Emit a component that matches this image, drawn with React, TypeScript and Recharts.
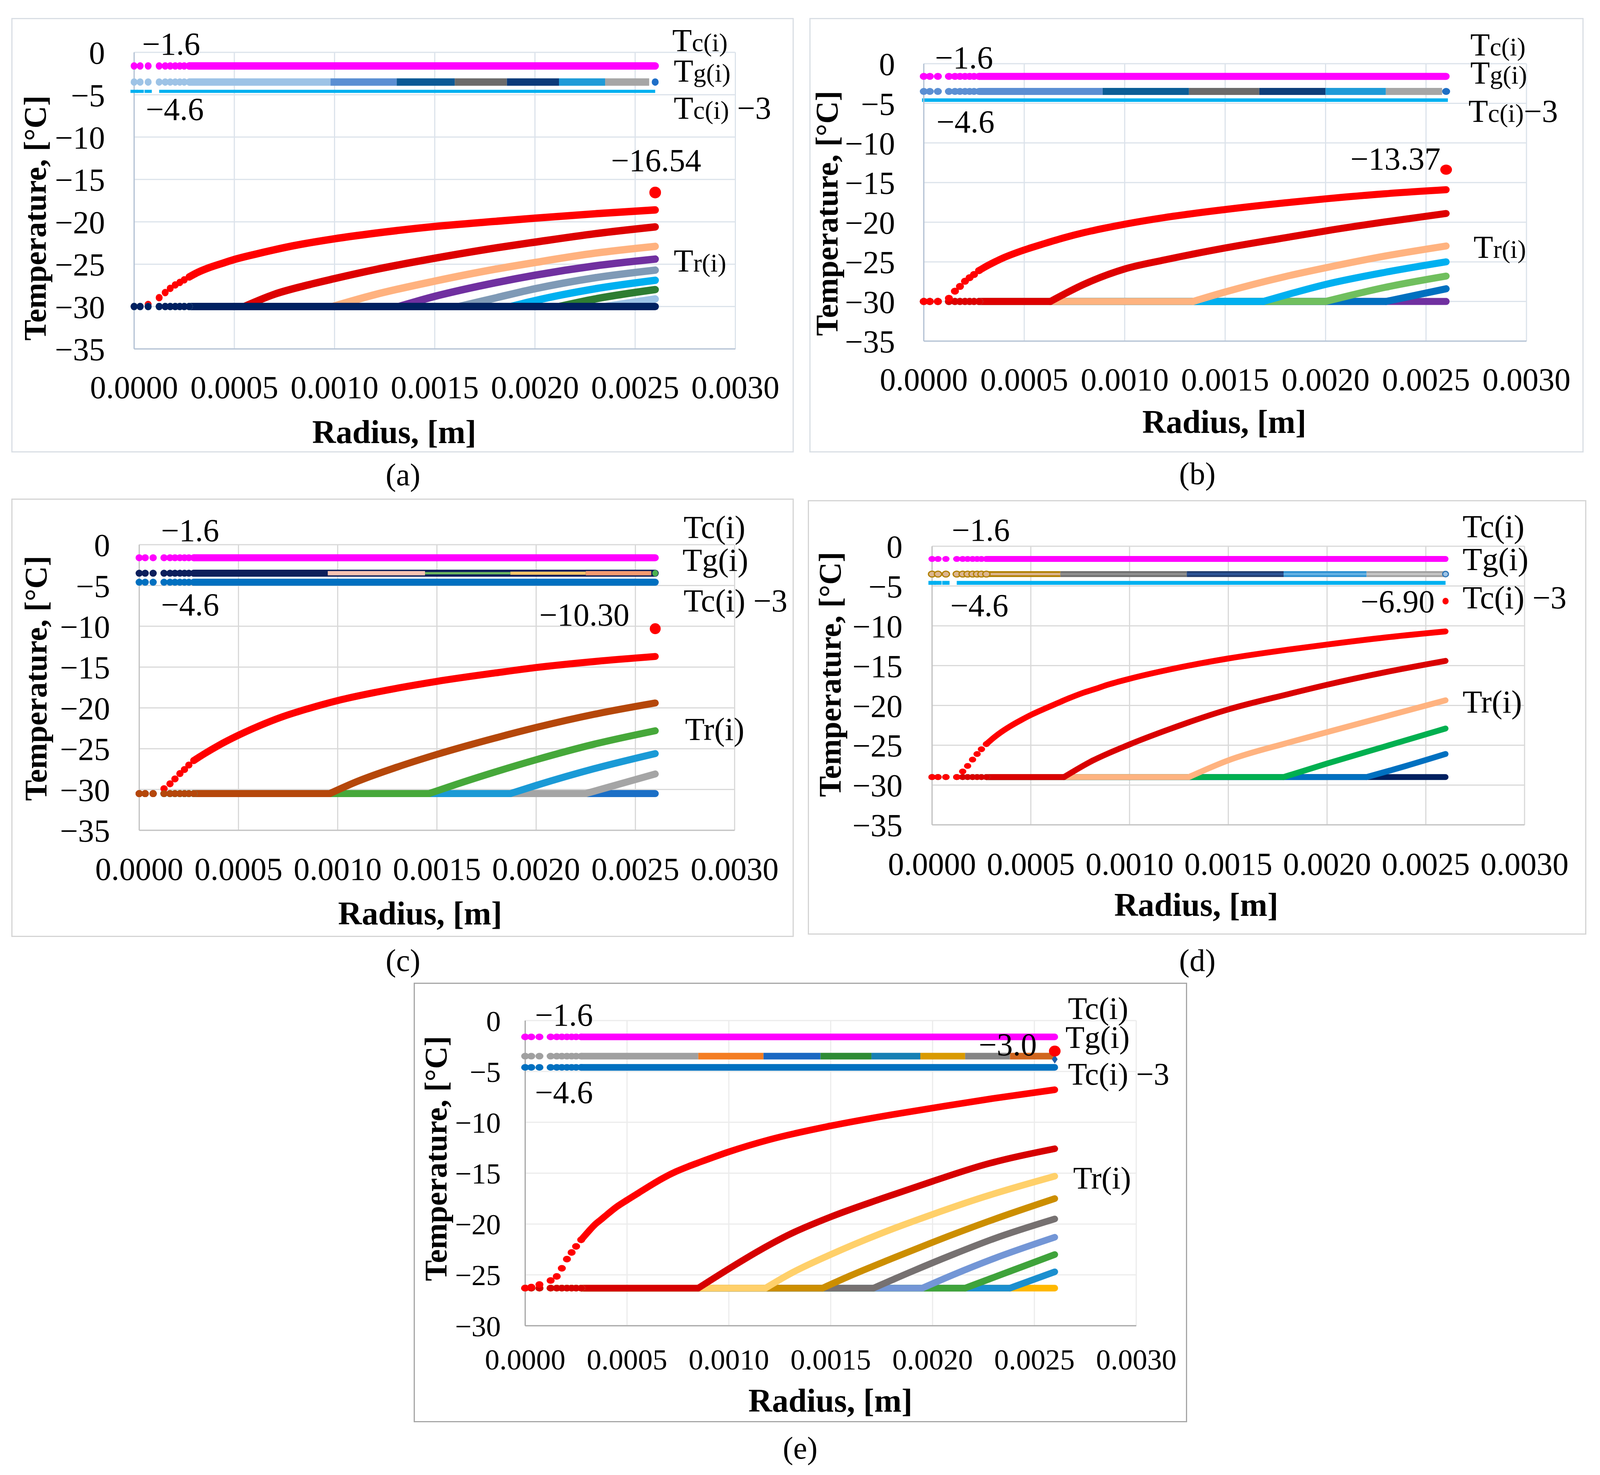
import React from 'react';
import { ComposedChart, Line, XAxis, YAxis, CartesianGrid } from 'recharts';

type Pt = [number, number];

const FONT = '"Liberation Serif", "Times New Roman", Times, serif';
const REF_W = 4391;
const PAGE_W = 4096;
const PAGE_H = 3775;
const KX = PAGE_W / REF_W;
const sx = (x: number) => x * KX;
const X_H = 150;
const Y_W = 180;

// ---------- shared axes / categories ----------
const X_TICKS = [0, 0.0005, 0.001, 0.0015, 0.002, 0.0025, 0.003];
const Y_TICKS_35 = [0, -5, -10, -15, -20, -25, -30, -35];
const Y_TICKS_30 = [0, -5, -10, -15, -20, -25, -30];
const START_R = [0, 0.00003, 0.00007, 0.000125, 0.000155, 0.00018, 0.000205, 0.000228, 0.00025, 0.000275];
const BAND_FROM = 0.000275;
const DASH_TO = 0.000125;

const TC = -1.6;
const TG = -3.5;
const TC3 = -4.6;

// ---------- panel (a) ----------
const A_TC: Pt[] = [[0, TC], [0.0026, TC]];
const A_TC3: Pt[] = [[0, TC3], [0.0026, TC3]];
const A_TG_BREAKS = [0, 0.00098, 0.00131, 0.0016, 0.00186, 0.00212, 0.00235, 0.00257];
const A_TR1: Pt[] = [[0, -30], [0.00003, -30], [0.00007, -29.75], [0.000125, -28.95], [0.000155, -28.35], [0.00018, -27.85], [0.000205, -27.45], [0.000228, -27.15], [0.00025, -26.85], [0.000275, -26.5], [0.00031, -26.05], [0.00037, -25.45], [0.00044, -24.9], [0.0005, -24.45], [0.0006, -23.85], [0.0007, -23.3], [0.0008, -22.8], [0.001, -22.0], [0.0012, -21.35], [0.0015, -20.55], [0.0018, -19.95], [0.002, -19.57], [0.0023, -19.05], [0.0026, -18.6]];
const A_TR2: Pt[] = [[0, -30], [0.00055, -30], [0.0007, -28.55], [0.00085, -27.55], [0.001, -26.7], [0.0012, -25.65], [0.0015, -24.3], [0.0018, -23.1], [0.002, -22.4], [0.0023, -21.4], [0.0026, -20.6]];
const A_TR3: Pt[] = [[0, -30], [0.00099, -30], [0.0012, -28.6], [0.0015, -27.0], [0.0018, -25.6], [0.002, -24.8], [0.0023, -23.7], [0.0026, -22.9]];
const A_TR4: Pt[] = [[0, -30], [0.00132, -30], [0.0015, -28.8], [0.0018, -27.2], [0.002, -26.3], [0.0023, -25.2], [0.0026, -24.4]];
const A_TR5: Pt[] = [[0, -30], [0.00162, -30], [0.0018, -29.0], [0.002, -27.9], [0.0023, -26.6], [0.0026, -25.7]];
const A_TR6: Pt[] = [[0, -30], [0.00188, -30], [0.002, -29.3], [0.0023, -27.9], [0.0026, -26.9]];
const A_TR7: Pt[] = [[0, -30], [0.00212, -30], [0.0023, -29.1], [0.0026, -28.0]];
const A_TR8: Pt[] = [[0, -30], [0.00235, -30], [0.0026, -29.1]];
const A_TR9: Pt[] = [[0, -30], [0.0026, -30]];
const A_PEAK: Pt = [0.0026, -16.54];

// ---------- panel (b) ----------
const B_TC: Pt[] = [[0, TC], [0.0026, TC]];
const B_TC3: Pt[] = [[0, TC3], [0.0026, TC3]];
const B_TG_BREAKS = [0, 0.00089, 0.00132, 0.00167, 0.002, 0.0023, 0.00258];
const B_TR1: Pt[] = [[0, -30], [0.00003, -30], [0.00007, -30], [0.000125, -29.6], [0.000155, -28.7], [0.00018, -28.1], [0.000205, -27.45], [0.000228, -27.0], [0.00025, -26.6], [0.000275, -26.1], [0.0003, -25.72], [0.00035, -25.05], [0.0004, -24.45], [0.00045, -23.95], [0.0005, -23.5], [0.0006, -22.7], [0.0007, -21.95], [0.0008, -21.3], [0.0009, -20.75], [0.001, -20.25], [0.0012, -19.4], [0.0015, -18.4], [0.0018, -17.55], [0.002, -17.05], [0.0023, -16.4], [0.0026, -15.9]];
const B_TR2: Pt[] = [[0, -30], [0.00063, -30], [0.0008, -27.8], [0.001, -25.9], [0.0012, -24.75], [0.0015, -23.25], [0.0018, -21.95], [0.002, -21.1], [0.0023, -19.95], [0.0026, -18.9]];
const B_TR3: Pt[] = [[0, -30], [0.00134, -30], [0.0015, -28.8], [0.0018, -26.85], [0.002, -25.75], [0.0023, -24.25], [0.0026, -23.0]];
const B_TR4: Pt[] = [[0, -30], [0.00169, -30], [0.0018, -29.2], [0.002, -27.85], [0.0023, -26.3], [0.0026, -25.0]];
const B_TR5: Pt[] = [[0, -30], [0.002, -30], [0.0023, -28.2], [0.0026, -26.8]];
const B_TR6: Pt[] = [[0, -30], [0.0023, -30], [0.0026, -28.4]];
const B_TR7: Pt[] = [[0, -30], [0.0026, -30]];
const B_PEAK: Pt = [0.0026, -13.37];

// ---------- panel (c) ----------
const C_TC: Pt[] = [[0, TC], [0.0026, TC]];
const C_TC3: Pt[] = [[0, TC3], [0.0026, TC3]];
const C_TG: Pt[] = [[0, TG], [0.0026, TG]];
const C_TG_BREAKS = [0.00095, 0.00144, 0.00187, 0.00225, 0.00258];
const C_TR1: Pt[] = [[0, -30.5], [0.00003, -30.5], [0.00007, -30.5], [0.000125, -29.9], [0.000155, -29.3], [0.00018, -28.7], [0.000205, -28.05], [0.000228, -27.55], [0.00025, -27.0], [0.000275, -26.45], [0.00033, -25.6], [0.0004, -24.6], [0.0005, -23.35], [0.0006, -22.25], [0.00072, -21.1], [0.00085, -20.1], [0.001, -19.1], [0.0012, -18.05], [0.0015, -16.75], [0.0018, -15.7], [0.002, -15.05], [0.0023, -14.3], [0.0026, -13.7]];
const C_TR2: Pt[] = [[0, -30.5], [0.00096, -30.5], [0.0011, -29.0], [0.0013, -27.25], [0.0015, -25.7], [0.0018, -23.65], [0.002, -22.4], [0.0023, -20.75], [0.0026, -19.4]];
const C_TR3: Pt[] = [[0, -30.5], [0.00146, -30.5], [0.0016, -29.35], [0.0018, -27.8], [0.002, -26.35], [0.0023, -24.4], [0.0026, -22.8]];
const C_TR4: Pt[] = [[0, -30.5], [0.00187, -30.5], [0.002, -29.5], [0.0023, -27.4], [0.0026, -25.6]];
const C_TR5: Pt[] = [[0, -30.5], [0.00225, -30.5], [0.0026, -28.1]];
const C_TR6: Pt[] = [[0, -30.5], [0.0026, -30.5]];
const C_PEAK: Pt = [0.0026, -10.3];

// ---------- panel (d) ----------
const D_TC: Pt[] = [[0, TC], [0.0026, TC]];
const D_TC3: Pt[] = [[0, TC3], [0.0026, TC3]];
const D_TG_BREAKS = [0, 0.00065, 0.00129, 0.00178, 0.0022, 0.0026];
const D_TR1: Pt[] = [[0, -29], [0.00003, -29], [0.00007, -29], [0.000125, -29], [0.000155, -28.3], [0.00018, -27.6], [0.000205, -26.8], [0.000228, -26.1], [0.00025, -25.5], [0.000275, -24.85], [0.00032, -23.9], [0.00035, -23.35], [0.0004, -22.55], [0.00045, -21.85], [0.0005, -21.2], [0.00058, -20.3], [0.00065, -19.55], [0.00071, -18.93], [0.00077, -18.37], [0.00083, -17.9], [0.00089, -17.4], [0.001, -16.65], [0.0012, -15.5], [0.0015, -14.1], [0.0018, -13.0], [0.002, -12.35], [0.0023, -11.45], [0.0026, -10.7]];
const D_TR2: Pt[] = [[0, -29], [0.000668, -29], [0.0008, -27.1], [0.001, -24.9], [0.0012, -23.0], [0.0015, -20.5], [0.0018, -18.6], [0.002, -17.4], [0.0023, -15.8], [0.0026, -14.4]];
const D_TR3: Pt[] = [[0, -29], [0.0013, -29], [0.0015, -26.9], [0.0018, -24.7], [0.002, -23.35], [0.0023, -21.35], [0.0026, -19.35]];
const D_TR4: Pt[] = [[0, -29], [0.00178, -29], [0.002, -27.3], [0.0023, -25.1], [0.0026, -22.9]];
const D_TR5: Pt[] = [[0, -29], [0.0022, -29], [0.0024, -27.6], [0.0026, -26.1]];
const D_TR6: Pt[] = [[0, -29], [0.0026, -29]];
const D_PEAK: Pt = [0.0026, -6.9];

// ---------- panel (e) ----------
const E_TC: Pt[] = [[0, TC], [0.0026, TC]];
const E_TC3: Pt[] = [[0, TC3], [0.0026, TC3]];
const E_TG_BREAKS = [0, 0.00085, 0.00117, 0.00145, 0.0017, 0.00194, 0.00216, 0.00238, 0.0026];
const E_TR1: Pt[] = [[0, -26.3], [0.00003, -26.2], [0.00007, -25.95], [0.000125, -25.55], [0.000155, -25.15], [0.00018, -24.35], [0.000205, -23.45], [0.000228, -22.8], [0.00025, -22.2], [0.000275, -21.55], [0.00031, -20.75], [0.00034, -20.1], [0.00037, -19.6], [0.0004, -19.1], [0.00045, -18.3], [0.0005, -17.65], [0.00056, -16.9], [0.00062, -16.15], [0.00068, -15.45], [0.00074, -14.85], [0.0008, -14.35], [0.00086, -13.9], [0.001, -12.9], [0.0012, -11.7], [0.0015, -10.35], [0.0018, -9.25], [0.002, -8.6], [0.0023, -7.65], [0.0026, -6.8]];
const E_TR2: Pt[] = [[0, -26.3], [0.00085, -26.3], [0.001, -24.4], [0.00115, -22.6], [0.0013, -21.0], [0.0015, -19.3], [0.00175, -17.5], [0.002, -15.8], [0.00225, -14.2], [0.0026, -12.6]];
const E_TR3: Pt[] = [[0, -26.3], [0.00118, -26.3], [0.0013, -24.9], [0.0015, -23.0], [0.00175, -20.9], [0.002, -19.05], [0.00225, -17.35], [0.0026, -15.3]];
const E_TR4: Pt[] = [[0, -26.3], [0.00146, -26.3], [0.0016, -25.05], [0.0018, -23.4], [0.002, -21.8], [0.0023, -19.55], [0.0026, -17.5]];
const E_TR5: Pt[] = [[0, -26.3], [0.00171, -26.3], [0.0019, -24.65], [0.0021, -23.0], [0.0023, -21.45], [0.0026, -19.5]];
const E_TR6: Pt[] = [[0, -26.3], [0.00195, -26.3], [0.0021, -25.0], [0.0023, -23.4], [0.0026, -21.3]];
const E_TR7: Pt[] = [[0, -26.3], [0.00216, -26.3], [0.0024, -24.5], [0.0026, -23.0]];
const E_TR8: Pt[] = [[0, -26.3], [0.00238, -26.3], [0.0026, -24.7]];
const E_TR9: Pt[] = [[0, -26.3], [0.0026, -26.3]];
const E_PEAK: Pt = [0.0026, -3.0];
const E_TG_END: Pt = [0.0026, -3.8];

// ---------- rendering helpers ----------
type S = {
  pts: Pt[];
  color: string;
  w: number;
  dots?: boolean;
  dash?: boolean;
  cap?: 'round' | 'butt' | 'square';
  inner?: string;
  innerW?: number;
  dotFill?: string;
  dotStroke?: string;
};

type Mark = { pt: Pt; fill: string; rx: number; ry: number; stroke?: string; shape?: 'ellipse' | 'diamond' };

const toData = (pts: Pt[]) => pts.map(([r, t]) => ({ r, t }));

function tgSegs(breaks: number[], v: number, colors: string[], w: number, inner?: string[], innerW?: number, dotFill?: string, dotStroke?: string): S[] {
  return colors.map((c, i) => ({
    pts: [[breaks[i], v], [breaks[i + 1], v]] as Pt[],
    color: c,
    w,
    dots: i === 0,
    cap: 'butt' as const,
    inner: inner ? inner[i] : undefined,
    innerW,
    dotFill: i === 0 ? dotFill : undefined,
    dotStroke: i === 0 ? dotStroke : undefined,
  }));
}

function bandLine(pts: Pt[], key: string, color: string, w: number, cap: string, curve: 'linear' | 'monotone') {
  return (
    <Line
      key={key}
      data={toData(pts)}
      dataKey="t"
      type={curve}
      stroke={color}
      strokeWidth={w}
      strokeLinecap={cap as any}
      strokeLinejoin="round"
      dot={false}
      activeDot={false}
      isAnimationActive={false}
    />
  );
}

function seriesLines(s: S, key: string, rx: number, ry: number): React.ReactElement[] {
  const out: React.ReactElement[] = [];
  let band = s.pts;
  const marks: Pt[] = [];
  const p0 = s.pts[0];
  const flatTo = s.pts.length > 1 && s.pts[1][1] === p0[1] ? s.pts[1][0] : p0[0];
  if (s.dots || s.dash) {
    const limit = s.dots ? BAND_FROM : DASH_TO;
    for (const r of START_R) {
      if (s.dash && r >= DASH_TO) break;
      const ex = s.pts.find((p) => p[0] === r);
      if (ex) marks.push(ex);
      else if (r >= p0[0] && r <= flatTo) marks.push([r, p0[1]]);
    }
    const ex = s.pts.find((p) => p[0] === limit);
    const first: Pt | null = ex ? ex : limit >= p0[0] && limit <= flatTo ? [limit, p0[1]] : null;
    band = [...(first ? [first] : []), ...s.pts.filter((p) => p[0] > limit)];
  }
  const cap = s.cap ?? 'round';
  let k = 0;
  while (k + 1 < band.length && band[k + 1][1] === band[0][1]) k++;
  const flat = band.slice(0, k + 1);
  const rising = band.slice(k);
  if (flat.length > 1) out.push(bandLine(flat, key + 'f', s.color, s.w, cap, 'linear'));
  if (rising.length > 1) out.push(bandLine(rising, key + 'r', s.color, s.w, cap, 'monotone'));
  if (s.inner) out.push(bandLine(band, key + 'i', s.inner, s.innerW ?? s.w / 2, 'butt', 'linear'));
  if (marks.length) {
    const fill = s.dotFill ?? s.color;
    out.push(
      <Line
        key={key + 'd'}
        data={toData(marks)}
        dataKey="t"
        type="linear"
        stroke="none"
        dot={(p: any) =>
          p.cx == null || p.cy == null ? (
            <g key={p.index} />
          ) : s.dash ? (
            <rect key={p.index} x={p.cx - sx(10)} y={p.cy - s.w / 2} width={sx(20)} height={s.w} fill={s.color} />
          ) : (
            <ellipse
              key={p.index}
              cx={p.cx}
              cy={p.cy}
              rx={sx(rx)}
              ry={ry}
              fill={fill}
              stroke={s.dotStroke ?? 'none'}
              strokeWidth={s.dotStroke ? 3 : 0}
            />
          )
        }
        activeDot={false}
        isAnimationActive={false}
      />
    );
  }
  return out;
}

function markLine(m: Mark, key: string) {
  return (
    <Line
      key={key}
      data={toData([m.pt])}
      dataKey="t"
      stroke="none"
      dot={(p: any) =>
        p.cx == null ? (
          <g key={p.index} />
        ) : m.shape === 'diamond' ? (
          <polygon
            key={p.index}
            points={`${p.cx},${p.cy - m.ry} ${p.cx + sx(m.rx)},${p.cy} ${p.cx},${p.cy + m.ry} ${p.cx - sx(m.rx)},${p.cy}`}
            fill={m.fill}
          />
        ) : (
          <ellipse key={p.index} cx={p.cx} cy={p.cy} rx={sx(m.rx)} ry={m.ry} fill={m.fill} stroke={m.stroke ?? 'none'} strokeWidth={m.stroke ? 3 : 0} />
        )
      }
      activeDot={false}
      isAnimationActive={false}
    />
  );
}

type PanelCfg = {
  id: string;
  box: [number, number, number, number];
  plot: [number, number, number, number];
  yMin: number;
  yTicks: number[];
  font: number;
  xGap: number;
  yGap: number;
  rx: number;
  ry: number;
  grid: string;
  axis: string;
  border: string;
  series: S[];
  marks: Mark[];
};

const MAG = '#FF00FF';

const PANELS: PanelCfg[] = [
  {
    id: 'a',
    box: [31, 46, 2178, 1158],
    plot: [368, 134, 2018, 893],
    yMin: -35,
    yTicks: Y_TICKS_35,
    font: 82,
    xGap: 68,
    yGap: 80,
    rx: 9.5,
    ry: 9.5,
    grid: '#DCE3EB',
    axis: '#B4C2D4',
    border: '#D9DEE4',
    series: [
      { pts: A_TC, color: MAG, w: 19, dots: true },
      ...tgSegs(A_TG_BREAKS, TG, ['#9DC3E6', '#5B8FD3', '#0B5A96', '#6B6B6B', '#0C3B7A', '#1E9BD8', '#A6A6A6'], 19),
      { pts: A_TC3, color: '#00B0F0', w: 8, dash: true, cap: 'butt' },
      { pts: A_TR1, color: '#FF0000', w: 19, dots: true },
      { pts: A_TR2, color: '#DD0000', w: 19, dots: true },
      { pts: A_TR3, color: '#FFB27F', w: 19, dots: true },
      { pts: A_TR4, color: '#7030A0', w: 19, dots: true },
      { pts: A_TR5, color: '#7F9AB6', w: 19, dots: true },
      { pts: A_TR6, color: '#00B0F0', w: 19, dots: true },
      { pts: A_TR7, color: '#2E7D32', w: 19, dots: true },
      { pts: A_TR8, color: '#9DC3E6', w: 19, dots: true },
      { pts: A_TR9, color: '#002060', w: 19, dots: true },
    ],
    marks: [
      { pt: [0.0026, TG], fill: '#1E6FC8', rx: 9.5, ry: 9.5 },
      { pt: A_PEAK, fill: '#FF0000', rx: 16, ry: 15 },
    ],
  },
  {
    id: 'b',
    box: [2221, 46, 4346, 1158],
    plot: [2535, 163, 4189, 873],
    yMin: -35,
    yTicks: Y_TICKS_35,
    font: 82,
    xGap: 68,
    yGap: 79,
    rx: 11,
    ry: 9,
    grid: '#DCE3EB',
    axis: '#B4C2D4',
    border: '#D9DEE4',
    series: [
      { pts: B_TC, color: MAG, w: 18, dots: true },
      ...tgSegs(B_TG_BREAKS, TG, ['#5B8FD3', '#0B5E97', '#6B6B6B', '#0D3F7A', '#1E9BD8', '#A6A6A6'], 18),
      { pts: B_TC3, color: '#00B0F0', w: 9, cap: 'square' },
      { pts: B_TR7, color: '#7030A0', w: 18, dots: true },
      { pts: B_TR6, color: '#0070C0', w: 18, dots: true },
      { pts: B_TR5, color: '#70BF5E', w: 18, dots: true },
      { pts: B_TR4, color: '#00B0F0', w: 18, dots: true },
      { pts: B_TR3, color: '#FFB380', w: 18, dots: true },
      { pts: B_TR2, color: '#DE0000', w: 18, dots: true },
      { pts: B_TR1, color: '#FF0000', w: 18, dots: true },
    ],
    marks: [
      { pt: [0.0026, TG], fill: '#1F6FC5', rx: 11, ry: 9 },
      { pt: B_PEAK, fill: '#FF0000', rx: 16, ry: 13 },
    ],
  },
  {
    id: 'c',
    box: [31, 1276, 2178, 2398],
    plot: [382, 1394, 2016, 2125],
    yMin: -35,
    yTicks: Y_TICKS_35,
    font: 82,
    xGap: 69,
    yGap: 80,
    rx: 10,
    ry: 9,
    grid: '#D9D9D9',
    axis: '#C3C3C3',
    border: '#D4D4D4',
    series: [
      { pts: C_TC, color: MAG, w: 18, dots: true },
      { pts: C_TG, color: '#0D1F5C', w: 18, dots: true },
      { pts: [[C_TG_BREAKS[0], TG], [C_TG_BREAKS[1], TG]], color: '#F9C3B2', w: 11, cap: 'butt' },
      { pts: [[C_TG_BREAKS[1], TG], [C_TG_BREAKS[2], TG]], color: '#6DB55F', w: 6, cap: 'butt' },
      { pts: [[C_TG_BREAKS[2], TG], [C_TG_BREAKS[3], TG]], color: '#F8C468', w: 8, cap: 'butt' },
      { pts: [[C_TG_BREAKS[3], TG], [C_TG_BREAKS[4], TG]], color: '#F69A6F', w: 11, cap: 'butt' },
      { pts: C_TC3, color: '#0070C0', w: 18, dots: true },
      { pts: C_TR6, color: '#1B6FC6', w: 18, dots: true },
      { pts: C_TR5, color: '#A5A5A5', w: 18, dots: true },
      { pts: C_TR4, color: '#1A9AD6', w: 18, dots: true },
      { pts: C_TR3, color: '#46A83A', w: 18, dots: true },
      { pts: C_TR1, color: '#FF0000', w: 18, dots: true },
      { pts: C_TR2, color: '#B5470A', w: 18, dots: true },
    ],
    marks: [
      { pt: [0.0026, TG], fill: '#4CAF50', rx: 8, ry: 8 },
      { pt: C_PEAK, fill: '#FF0000', rx: 15, ry: 14 },
    ],
  },
  {
    id: 'd',
    box: [2217, 1280, 4354, 2392],
    plot: [2558, 1398, 4184, 2111],
    yMin: -35,
    yTicks: Y_TICKS_35,
    font: 82,
    xGap: 70,
    yGap: 81,
    rx: 10,
    ry: 7.5,
    grid: '#D9D9D9',
    axis: '#C3C3C3',
    border: '#D4D4D4',
    series: [
      { pts: D_TC, color: MAG, w: 15, dots: true },
      ...tgSegs(
        D_TG_BREAKS,
        TG,
        ['#B07F00', '#6E6E6E', '#1F3B6E', '#2A8FD0', '#A0A0A0'],
        15,
        ['#DDB68F', '#909090', '#2E5597', '#66B2E4', '#C6C6C6'],
        6,
        '#DDB68F',
        '#B07F00'
      ),
      { pts: D_TC3, color: '#00B0F0', w: 10, dash: true, cap: 'butt' },
      { pts: D_TR6, color: '#002060', w: 15, dots: true },
      { pts: D_TR5, color: '#0070C0', w: 15, dots: true },
      { pts: D_TR4, color: '#00B050', w: 15, dots: true },
      { pts: D_TR3, color: '#FFB380', w: 15, dots: true },
      { pts: D_TR2, color: '#D90000', w: 15, dots: true },
      { pts: D_TR1, color: '#FF0000', w: 15, dots: true },
    ],
    marks: [
      { pt: [0.0026, TG], fill: '#9DC3E6', rx: 8, ry: 7, stroke: '#2E75B6' },
      { pt: D_PEAK, fill: '#FF0000', rx: 8.5, ry: 8.5 },
    ],
  },
  {
    id: 'e',
    box: [1135, 2515, 3258, 3640],
    plot: [1441, 2612, 3118, 3393],
    yMin: -30,
    yTicks: Y_TICKS_30,
    font: 75,
    xGap: 59,
    yGap: 67,
    rx: 11,
    ry: 8.5,
    grid: '#ECECEC',
    axis: '#A6A6A6',
    border: '#A6A6A6',
    series: [
      { pts: E_TC, color: MAG, w: 17, dots: true },
      ...tgSegs(E_TG_BREAKS, TG, ['#A0A0A0', '#F47D22', '#1A68C2', '#2E8B34', '#1680B4', '#D99A00', '#858585', '#D0661E'], 17),
      { pts: E_TC3, color: '#0070C0', w: 17, dots: true },
      { pts: E_TR9, color: '#FFB800', w: 17, dots: true },
      { pts: E_TR8, color: '#1B8FCF', w: 17, dots: true },
      { pts: E_TR7, color: '#3FA33B', w: 17, dots: true },
      { pts: E_TR6, color: '#7396D6', w: 17, dots: true },
      { pts: E_TR5, color: '#767171', w: 17, dots: true },
      { pts: E_TR4, color: '#CC8E00', w: 17, dots: true },
      { pts: E_TR3, color: '#FFD06A', w: 17, dots: true },
      { pts: E_TR2, color: '#D60000', w: 17, dots: true },
      { pts: E_TR1, color: '#FF0000', w: 17, dots: true },
    ],
    marks: [
      { pt: E_TG_END, fill: '#1F5FAA', rx: 8, ry: 11, shape: 'diamond' },
      { pt: E_PEAK, fill: '#FF0000', rx: 16, ry: 14 },
    ],
  },
];

const fmtX = (v: number) => v.toFixed(4);
const fmtY = (v: number) => (v === 0 ? '0' : `\u2212${Math.abs(v)}`);

function Panel({ cfg }: { cfg: PanelCfg }) {
  const [bL, bT, bR, bB] = cfg.box;
  const [pL, pT, pR, pB] = cfg.plot;
  const left = sx(bL);
  const W = sx(bR) - sx(bL);
  const H = bB - bT;
  const margin = {
    top: pT - bT,
    right: sx(bR) - sx(pR),
    bottom: bB - pB - X_H,
    left: sx(pL) - sx(bL) - Y_W,
  };
  const lines: React.ReactElement[] = [];
  cfg.series.forEach((s, i) => lines.push(...seriesLines(s, `${cfg.id}s${i}`, cfg.rx, cfg.ry)));
  cfg.marks.forEach((m, i) => lines.push(markLine(m, `${cfg.id}m${i}`)));
  const tick = { fill: '#000', fontSize: cfg.font, fontFamily: FONT };
  return (
    <>
      <div style={{ position: 'absolute', left, top: bT, width: W, height: H }}>
        <ComposedChart width={W} height={H} margin={margin}>
          <CartesianGrid stroke={cfg.grid} strokeWidth={3} />
          <XAxis
            type="number"
            dataKey="r"
            domain={[0, 0.003]}
            ticks={X_TICKS}
            interval={0}
            tickFormatter={fmtX}
            tickLine={false}
            tickSize={0}
            tickMargin={cfg.xGap}
            axisLine={{ stroke: cfg.axis, strokeWidth: 3 }}
            tick={tick}
            height={X_H}
          />
          <YAxis
            type="number"
            domain={[cfg.yMin, 0]}
            ticks={cfg.yTicks}
            interval={0}
            tickFormatter={fmtY}
            tickLine={false}
            tickSize={0}
            tickMargin={sx(cfg.yGap)}
            axisLine={{ stroke: cfg.axis, strokeWidth: 3 }}
            tick={tick}
            width={Y_W}
          />
          {lines}
        </ComposedChart>
      </div>
      <div
        style={{
          position: 'absolute',
          left,
          top: bT,
          width: W,
          height: H,
          boxSizing: 'border-box',
          border: `3px solid ${cfg.border}`,
          pointerEvents: 'none',
        }}
      />
    </>
  );
}

// ---------- texts (reference-space x, baseline y) ----------
type Lbl = { x: number; y: number; t: string; sub?: string; tail?: string; size?: number };

const LABELS: Lbl[] = [
  // (a)
  { x: 390, y: 140, t: '\u22121.6' },
  { x: 400, y: 307, t: '\u22124.6' },
  { x: 1677, y: 438, t: '\u221216.54' },
  { x: 1845, y: 131, t: 'T', sub: 'c(i)' },
  { x: 1849, y: 209, t: 'T', sub: 'g(i)' },
  { x: 1849, y: 304, t: 'T', sub: 'c(i)', tail: ' \u22123' },
  { x: 1849, y: 695, t: 'T', sub: 'r(i)' },
  // (b)
  { x: 2566, y: 175, t: '\u22121.6' },
  { x: 2570, y: 339, t: '\u22124.6' },
  { x: 3706, y: 434, t: '\u221213.37' },
  { x: 4035, y: 142, t: 'T', sub: 'c(i)' },
  { x: 4035, y: 214, t: 'T', sub: 'g(i)' },
  { x: 4030, y: 312, t: 'T', sub: 'c(i)', tail: '\u22123' },
  { x: 4044, y: 660, t: 'T', sub: 'r(i)' },
  // (c)
  { x: 442, y: 1385, t: '\u22121.6' },
  { x: 442, y: 1575, t: '\u22124.6' },
  { x: 1480, y: 1601, t: '\u221210.30' },
  { x: 1876, y: 1377, t: 'Tc(i)' },
  { x: 1873, y: 1461, t: 'Tg(i)' },
  { x: 1876, y: 1565, t: 'Tc(i) \u22123' },
  { x: 1880, y: 1894, t: 'Tr(i)' },
  // (d)
  { x: 2612, y: 1384, t: '\u22121.6' },
  { x: 2608, y: 1577, t: '\u22124.6' },
  { x: 3734, y: 1567, t: '\u22126.90' },
  { x: 4014, y: 1375, t: 'Tc(i)' },
  { x: 4014, y: 1459, t: 'Tg(i)' },
  { x: 4014, y: 1557, t: 'Tc(i) \u22123' },
  { x: 4014, y: 1824, t: 'Tr(i)' },
  // (e)
  { x: 1468, y: 2625, t: '\u22121.6' },
  { x: 1468, y: 2823, t: '\u22124.6' },
  { x: 2686, y: 2701, t: '\u22123.0' },
  { x: 2931, y: 2608, t: 'Tc(i)', size: 80 },
  { x: 2924, y: 2682, t: 'Tg(i)', size: 80 },
  { x: 2931, y: 2776, t: 'Tc(i) \u22123', size: 80 },
  { x: 2945, y: 3042, t: 'Tr(i)', size: 80 },
];

const X_TITLES = [
  { x: 1082, y: 1134 },
  { x: 3360, y: 1108 },
  { x: 1153, y: 2366 },
  { x: 3283, y: 2344 },
  { x: 2279, y: 3613 },
];
const Y_TITLES = [
  { x: 98, y: 558 },
  { x: 2271, y: 546 },
  { x: 100, y: 1736 },
  { x: 2279, y: 1726 },
  { x: 1197, y: 2965 },
];
const CAPTIONS = [
  { x: 1106, y: 1242, t: '(a)' },
  { x: 3286, y: 1239, t: '(b)' },
  { x: 1106, y: 2485, t: '(c)' },
  { x: 3286, y: 2485, t: '(d)' },
  { x: 2196, y: 3733, t: '(e)' },
];

export default function App() {
  return (
    <div
      style={{
        position: 'absolute',
        left: 0,
        top: 0,
        width: PAGE_W,
        height: PAGE_H,
        background: '#fff',
        overflow: 'hidden',
        fontFamily: FONT,
      }}
    >
      {PANELS.map((p) => (
        <Panel key={p.id} cfg={p} />
      ))}
      <svg
        width={PAGE_W}
        height={PAGE_H}
        style={{ position: 'absolute', left: 0, top: 0, pointerEvents: 'none' }}
        fontFamily={FONT}
      >
        {LABELS.map((l, i) => (
          <text key={`l${i}`} x={sx(l.x)} y={l.y} fontSize={l.size ?? 82} fill="#000">
            {l.t}
            {l.sub ? <tspan fontSize={66}>{l.sub}</tspan> : null}
            {l.tail ? <tspan fontSize={82}>{l.tail}</tspan> : null}
          </text>
        ))}
        {X_TITLES.map((t, i) => (
          <text key={`xt${i}`} x={sx(t.x)} y={t.y} fontSize={84} fontWeight="bold" textAnchor="middle" fill="#000">
            Radius, [m]
          </text>
        ))}
        {Y_TITLES.map((t, i) => (
          <text
            key={`yt${i}`}
            transform={`translate(${sx(t.x) + 26} ${t.y}) rotate(-90)`}
            fontSize={80}
            fontWeight="bold"
            textAnchor="middle"
            fill="#000"
          >
            Temperature, [°C]
          </text>
        ))}
        {CAPTIONS.map((c, i) => (
          <text key={`c${i}`} x={sx(c.x)} y={c.y} fontSize={80} textAnchor="middle" fill="#000">
            {c.t}
          </text>
        ))}
      </svg>
    </div>
  );
}
